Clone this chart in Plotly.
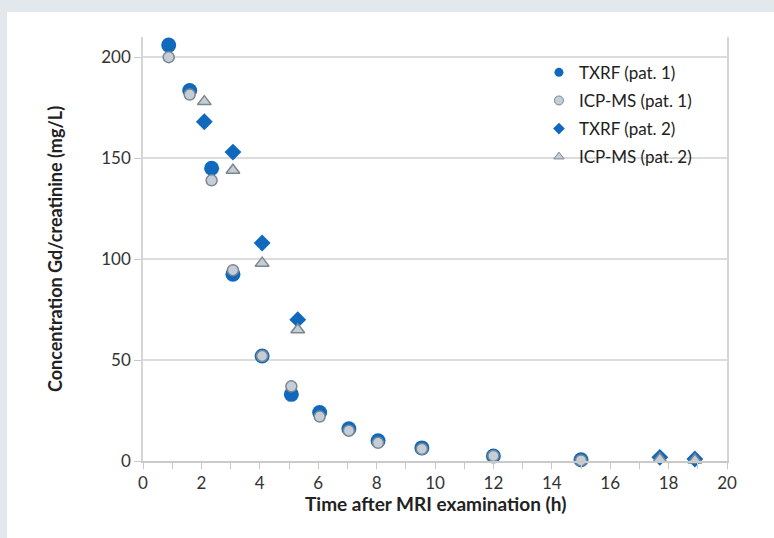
import plotly.graph_objects as go

# Data
pat1_time = [0.88, 1.6, 2.35, 3.08, 4.08, 5.08, 6.05, 7.05, 8.05, 9.55, 12.0, 15.0]
txrf_pat1 = [206, 183.5, 145, 92.5, 52, 33, 24, 16, 10, 6.5, 2.5, 0.6]
icpms_pat1 = [200, 181.5, 139, 94.5, 52, 37, 22, 15, 9, 6, 2.5, 0.3]

pat2_time = [2.1, 3.08, 4.08, 5.3, 17.7, 18.9]
txrf_pat2 = [168, 153, 108, 70, 1.8, 1.0]
icpms_pat2 = [178, 144, 98, 65, 1.0, 0.5]

series_names = ["TXRF (pat. 1)", "ICP-MS (pat. 1)", "TXRF (pat. 2)", "ICP-MS (pat. 2)"]
x_ticks = list(range(0, 21, 2))
y_ticks = [0, 50, 100, 150, 200]
x_title = "Time after MRI examination (h)"
y_title = "Concentration Gd/creatinine (mg/L)"

BLUE = "#1169bd"
GRAY_FILL = "#c3ced8"
GRAY_LINE = "#7d868d"
FONT = "Lato"

styles = [
    dict(symbol="circle", size=15, color=BLUE, line=dict(width=0)),
    dict(symbol="circle", size=11, color=GRAY_FILL, line=dict(width=1.5, color=GRAY_LINE)),
    dict(symbol="diamond", size=13, color=BLUE, line=dict(width=0)),
    dict(symbol="triangle-up", size=12, color=GRAY_FILL, line=dict(width=1.5, color=GRAY_LINE)),
]
legend_styles = [
    dict(symbol="circle", size=9, color=BLUE, line=dict(width=0)),
    dict(symbol="circle", size=9, color=GRAY_FILL, line=dict(width=1, color=GRAY_LINE)),
    dict(symbol="diamond", size=9, color=BLUE, line=dict(width=0)),
    dict(symbol="triangle-up", size=9, color=GRAY_FILL, line=dict(width=1, color=GRAY_LINE)),
]
xs = [pat1_time, pat1_time, pat2_time, pat2_time]
ys = [txrf_pat1, icpms_pat1, txrf_pat2, icpms_pat2]

fig = go.Figure()
for name, x, y, st in zip(series_names, xs, ys, styles):
    fig.add_trace(go.Scatter(x=x, y=y, mode="markers", name=name, showlegend=False,
                             marker=st, cliponaxis=False, hoverinfo="skip"))
for i, (name, st) in enumerate(zip(series_names, legend_styles)):
    fig.add_trace(go.Scatter(x=[None], y=[None], mode="markers", name=name,
                             legendgroup=str(i), marker=st))

fig.update_layout(
    width=774, height=538,
    paper_bgcolor="#e3e8ec",
    plot_bgcolor="white",
    margin=dict(l=143, r=47, t=37, b=77),
    font=dict(family=FONT, size=17, color="#333333"),
    legend=dict(x=0.678, y=0.958, xanchor="left", yanchor="top",
                bgcolor="rgba(0,0,0,0)", font=dict(size=17, color="#222222"),
                traceorder="grouped", tracegroupgap=3, itemwidth=30),
    shapes=[dict(type="rect", xref="paper", yref="paper",
                 x0=(7 - 143) / 584, x1=1 + 60 / 584,
                 y0=-90 / 424, y1=1 + (37 - 12) / 424,
                 fillcolor="white", line=dict(width=0), layer="below")],
    annotations=[dict(text="<b>" + x_title + "</b>", xref="paper", yref="paper",
                      x=0.5, y=-0.1, xanchor="center", yanchor="middle", showarrow=False,
                      font=dict(size=19, color="#222222"))],
)

fig.update_xaxes(
    range=[0, 20], tickvals=x_ticks, ticktext=[str(v) for v in x_ticks],
    showgrid=False, zeroline=False,
    showline=True, linecolor="#c9c9c9", linewidth=1.5,
    ticks="outside", ticklen=6, tickcolor="#c9c9c9",
    minor=dict(dtick=1, ticks="outside", ticklen=6, tickcolor="#c9c9c9"),
    tickfont=dict(size=17, color="#333333"),
    ticklabelstandoff=0,
)
fig.update_yaxes(
    range=[0, 210], tickvals=y_ticks,
    showgrid=True, gridcolor="#dcdcdc", gridwidth=1.5,
    zeroline=False,
    showline=True, linecolor="#d6d6d6", linewidth=1.5, mirror=True,
    ticks="outside", ticklen=7, tickcolor="#c9c9c9",
    tickfont=dict(size=17, color="#333333"),
    title=dict(text="<b>" + y_title + "</b>", font=dict(size=18, color="#222222"), standoff=34),
)

fig.write_html("out.html",
               config=dict(displayModeBar=False),
               post_script="document.body.style.margin='0';document.body.style.overflow='hidden';document.body.style.background='#e3e8ec';")
